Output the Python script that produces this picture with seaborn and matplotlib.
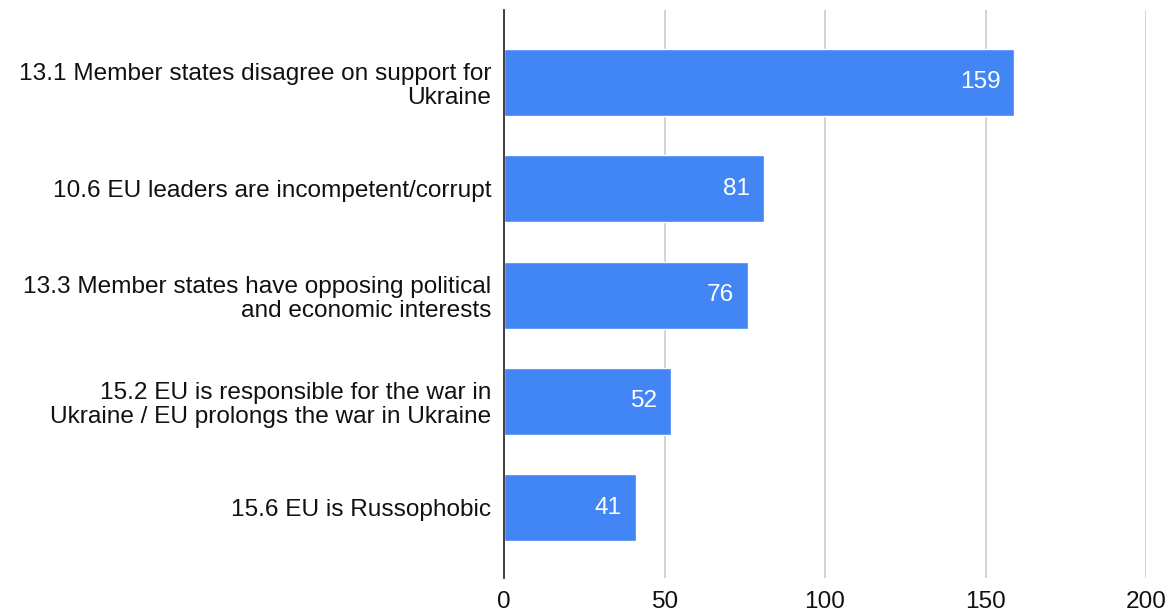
import matplotlib
matplotlib.use("Agg")
import matplotlib.pyplot as plt
import seaborn as sns
import pandas as pd

categories = [
    "13.1 Member states disagree on support for\nUkraine",
    "10.6 EU leaders are incompetent/corrupt",
    "13.3 Member states have opposing political\nand economic interests",
    "15.2 EU is responsible for the war in\nUkraine / EU prolongs the war in Ukraine",
    "15.6 EU is Russophobic",
]
counts = [159, 81, 76, 52, 41]
x_ticks = [0, 50, 100, 150, 200]

df = pd.DataFrame({"category": categories, "count": counts})

sns.set_theme(style="white")
plt.rcParams["font.family"] = ["Liberation Sans", "DejaVu Sans"]

FS = 17.6

fig = plt.figure(figsize=(11.74, 6.14), dpi=100)
ax = fig.add_axes([0.4293, 0.0586, 0.5469, 0.9251])

sns.barplot(data=df, x="count", y="category", orient="h", color="#4285F4",
            saturation=1, width=0.63, ax=ax, zorder=3)

ax.set_xlim(0, 200)
ax.set_ylim(4.66, -0.68)
ax.set_xticks(x_ticks)
ax.set_xticklabels([str(t) for t in x_ticks], fontsize=FS, color="#111111")
ax.tick_params(axis="x", length=0, pad=9)
ax.tick_params(axis="y", length=0, pad=9)
for lbl in ax.get_yticklabels():
    lbl.set_fontsize(FS)
    lbl.set_color("#111111")
    lbl.set_horizontalalignment("right")
    lbl.set_multialignment("right")
    lbl.set_linespacing(1.15)
ax.set_xlabel("")
ax.set_ylabel("")

ax.grid(axis="x", color="#cccccc", linewidth=1.2, zorder=0)
ax.grid(axis="y", visible=False)
for side in ["top", "right", "bottom"]:
    ax.spines[side].set_visible(False)
ax.spines["left"].set_color("#333333")
ax.spines["left"].set_linewidth(1.3)
ax.spines["left"].set_zorder(4)

for container in ax.containers:
    ax.bar_label(container, labels=[str(v) for v in counts], padding=-10,
                 color="white", fontsize=FS, zorder=5)
for txt in ax.texts:
    txt.set_horizontalalignment("right")

fig.savefig("out.png", dpi=100)
